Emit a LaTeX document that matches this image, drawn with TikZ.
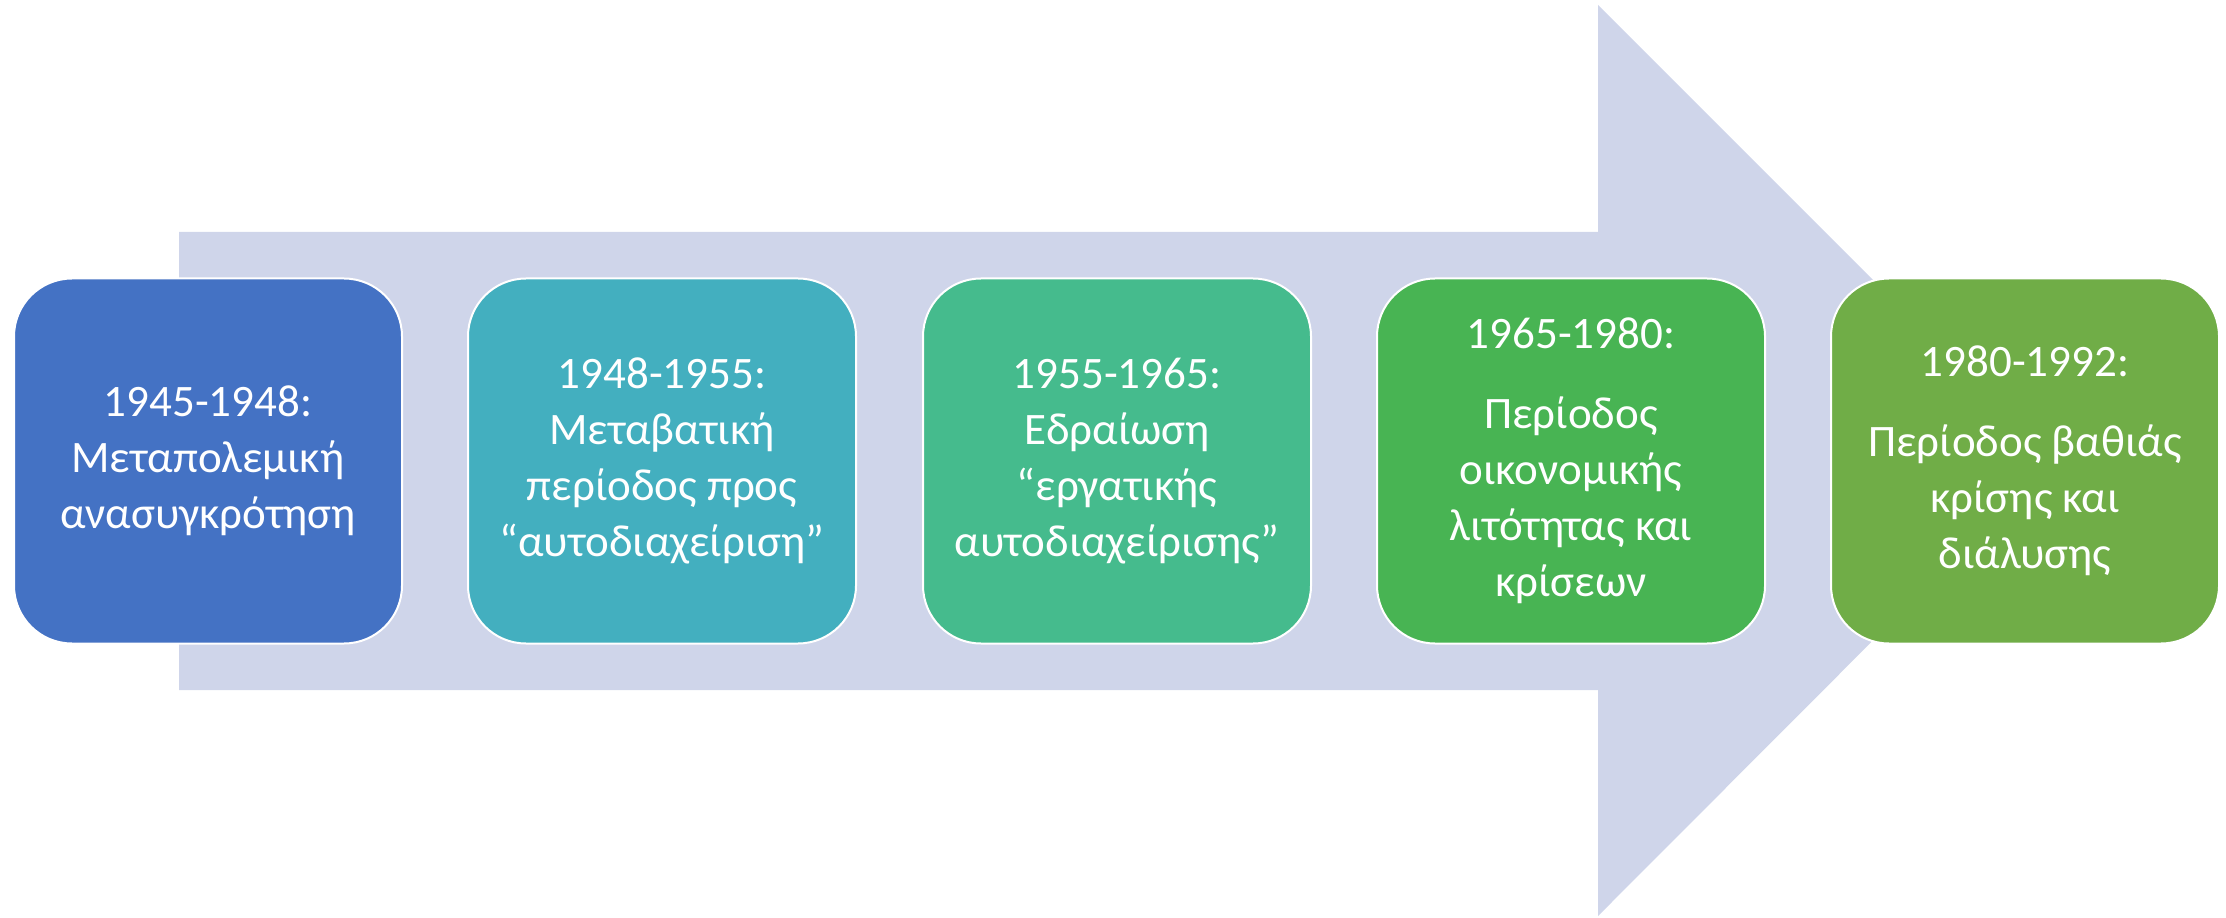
\documentclass[tikz,border=0pt]{standalone}
\usepackage{fontspec}
\setmainfont{Carlito}
\usepackage{tikz}
\usetikzlibrary{arrows}

\definecolor{arrowgray}{HTML}{CFD5EA}
\definecolor{periodA}{HTML}{4472C4}
\definecolor{periodB}{HTML}{43AFBF}
\definecolor{periodC}{HTML}{45BB8D}
\definecolor{periodD}{HTML}{48B453}
\definecolor{periodE}{HTML}{70AD47}

\tikzset{
  period/.style={rectangle, rounded corners=29pt, minimum width=194pt, minimum height=182.5pt,
    draw=white, line width=1pt, text=white, align=center, inner sep=0pt,
    font=\fontsize{22.5}{28}\selectfont}
}

\begin{document}
\begin{tikzpicture}[x=0.5pt, y=0.5pt]
\useasboundingbox (0,0) rectangle (2226,917);

% big background arrow
\fill[arrowgray] (179,685) -- (1598,685) -- (1598,912) -- (2053,457) -- (1598,1) -- (1598,227) -- (179,227) -- cycle;

\node[period, fill=periodA] (p1) at (208,456) {1945-1948:\\Μεταπολεμική\\ανασυγκρότηση};
\node[period, fill=periodB] (p2) at (662,456) {1948-1955:\\Μεταβατική\\περίοδος προς\\“αυτοδιαχείριση”};
\node[period, fill=periodC] (p3) at (1117,456) {1955-1965:\\Εδραίωση\\“εργατικής\\αυτοδιαχείρισης”};
\node[period, fill=periodD] (p4) at (1571,456) {1965-1980:\\[12pt]Περίοδος\\οικονομικής\\λιτότητας και\\κρίσεων};
\node[period, fill=periodE] (p5) at (2025,456) {1980-1992:\\[12pt]Περίοδος βαθιάς\\κρίσης και\\διάλυσης};
\end{tikzpicture}
\end{document}
